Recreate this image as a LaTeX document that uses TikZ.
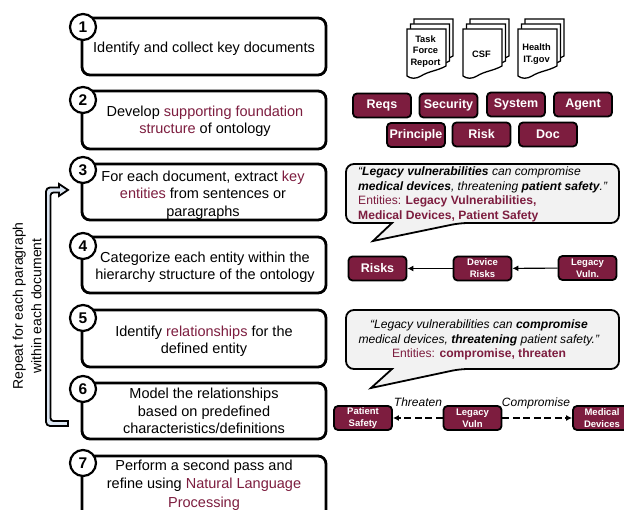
\documentclass[tikz,border=0pt]{standalone}
\usepackage{fontspec}
\setmainfont{Liberation Sans}
\usetikzlibrary{arrows.meta,calc}
\definecolor{maroon}{HTML}{7D1D3F}
\definecolor{calloutfill}{HTML}{F2F2F2}
\definecolor{armfill}{HTML}{DCE6F2}
\newcommand{\mar}[1]{\textcolor{maroon}{#1}}
\newcommand{\docstack}[5]{% x y name width text
  \foreach \dx/\dy in {7/-10,3.5/-5,0/0}{
    \draw[docline,shift={(#1+\dx,#2+\dy)}] (0,0) -- (39,0) -- (39,37)
      .. controls (30,42) and (22,42) .. (14,47) .. controls (9,50) and (4,50) .. (0,47) -- cycle;
  }
  \node[doctext] (#3) at (#1+18.5,#2+#4) {#5};
}
\tikzset{
  stepbox/.style={draw=black,line width=2.8pt,rounded corners=8pt,fill=white},
  steptext/.style={font=\fontsize{14.5}{17.3}\selectfont,align=center,text=black},
  num/.style={circle,draw=black,line width=2.2pt,fill=white,minimum size=26pt,inner sep=0pt,font=\fontsize{15.5}{16}\selectfont\bfseries},
  tag/.style={draw=black,line width=1.8pt,fill=maroon,rounded corners=4pt,text=white,font=\fontsize{12.5}{12.5}\selectfont\bfseries,align=center,minimum width=58pt,minimum height=24pt,inner sep=0pt},
  small/.style={tag,font=\fontsize{9.5}{12}\selectfont\bfseries},
  docline/.style={draw=black,line width=1.3pt,fill=white},
  doctext/.style={font=\fontsize{9.3}{11.7}\selectfont\bfseries,align=center},
  callout/.style={draw=black,line width=1.8pt,fill=calloutfill,rounded corners=8pt},
  ctext/.style={font=\fontsize{12.1}{14.5}\selectfont,anchor=north west,align=left,inner sep=0pt},
  lnk/.style={draw=black,line width=1.1pt,-{Latex[length=6pt,width=6pt]}},
  dlnk/.style={draw=black,line width=2.2pt,dash pattern=on 7pt off 3.5pt,-{Latex[length=6pt,width=6pt]}},
  rel/.style={font=\fontsize{12}{13}\selectfont\itshape,inner sep=0pt}
}
\begin{document}
\begin{tikzpicture}[x=1pt,y=-1pt]
\useasboundingbox (0,0) rectangle (624,510);
\clip (0,0) rectangle (624,510);
% step boxes
\draw[stepbox] (82,18) rectangle (326,75);
\draw[stepbox] (82,91) rectangle (326,149);
\draw[stepbox] (82,164) rectangle (326,220);
\draw[stepbox] (82,237) rectangle (326,293);
\draw[stepbox] (82,310) rectangle (326,367);
\draw[stepbox] (82,383) rectangle (326,439);
\draw[stepbox] (82,456) rectangle (326,530);
\foreach \n/\y in {1/27,2/100,3/170,4/246,5/318,6/389,7/463}{
  \node[num] (n\n) at (83,\y) {\n};
}
\node[steptext] (t1) at (204,49) {Identify and collect key documents};
\node[steptext] (t2) at (205,121) {Develop \mar{supporting foundation}\\\mar{structure} of ontology};
\node[steptext] (t3) at (203,195) {For each document, extract \mar{key}\\\mar{entities} from sentences or\\paragraphs};
\node[steptext] (t4) at (205,267) {Categorize each entity within the\\hierarchy structure of the ontology};
\node[steptext] (t5) at (204,341) {Identify \mar{relationships} for the\\defined entity};
\node[steptext] (t6) at (204,411) {Model the relationships\\based on predefined\\characteristics/definitions};
\node[steptext,font=\fontsize{14.5}{18.3}\selectfont] (t7) at (204,485) {Perform a second pass and\\refine using \mar{Natural Language}\\\mar{Processing}};
% repeat arrow
\draw[draw=black,line width=1.8pt,fill=armfill,line join=miter]
  (68,421) -- (54,421) [rounded corners=3pt] -- (50.5,421) -- (50.5,192.5) [sharp corners] -- (59,192.5)
  -- (59,196) -- (68,190) -- (59,184) -- (59,187.5) -- (51,187.5) [rounded corners=4pt] -- (46,187.5)
  -- (46,426) [sharp corners] -- (68,426) -- cycle;
\node[rotate=90,font=\fontsize{14}{18.5}\selectfont,align=center] (rep) at (27,306) {Repeat for each paragraph\\within each document};
% documents
\docstack{407}{29}{d1}{22.5}{Task\\Force\\Report}
\docstack{463}{29}{d2}{25}{CSF}
\docstack{518}{29}{d3}{25}{Health\\IT.gov}
% tags
\node[tag] (a1) at (382,105.5) {Reqs};
\node[tag] (a2) at (448.5,105.5) {Security};
\node[tag] (a3) at (516,104.5) {System};
\node[tag] (a4) at (583,104.5) {Agent};
\node[tag] (a5) at (416,135) {Principle};
\node[tag] (a6) at (481.5,134.5) {Risk};
\node[tag] (a7) at (548,134.5) {Doc};
% callout 1
\draw[callout] (365,164) -- (600,164) -- (619,164) -- (619,223) -- (460,223) [sharp corners] -- (373,241) -- (392,223) [rounded corners=8pt] -- (346,223) -- (346,164) -- cycle;
\node[ctext] (c1) at (358,167) {\textit{“\textbf{Legacy vulnerabilities} can compromise}\\\textit{\textbf{medical devices}, threatening \textbf{patient safety}.”}\\\mar{Entities: \textbf{Legacy Vulnerabilities,}}\\\mar{\textbf{Medical Devices, Patient Safety}}};
% chain 1
\node[tag] (r1) at (377.5,268.5) {Risks};
\node[small] (r2) at (482.5,268.5) {Device\\Risks};
\node[small] (r3) at (587.5,268) {Legacy\\Vuln.};
\draw[lnk] (r2) -- (r1);
\draw[lnk] (r3) -- (r2);
% callout 2
\draw[callout] (365,310) -- (600,310) -- (619,310) -- (619,369) -- (460,369) [sharp corners] -- (371,388) -- (392,369) [rounded corners=8pt] -- (346,369) -- (346,310) -- cycle;
\node[font=\fontsize{12.1}{14.5}\selectfont,align=center,inner sep=0pt] (c2) at (479,340) {\textit{“Legacy vulnerabilities can \textbf{compromise}}\\\textit{medical devices, \textbf{threatening} patient safety.”}\\\mar{Entities: \textbf{compromise, threaten}}};
% chain 2
\node[small] (p1) at (363,418) {Patient\\Safety};
\node[small] (p2) at (472.5,418) {Legacy\\Vuln};
\node[small] (p3) at (602,418) {Medical\\Devices};
\draw[dlnk] (p2) -- (p1);
\draw[dlnk] (p2) -- (p3);
\node[rel] (l1) at (418,402) {Threaten};
\node[rel] (l2) at (536,403) {Compromise};
\end{tikzpicture}
\end{document}
